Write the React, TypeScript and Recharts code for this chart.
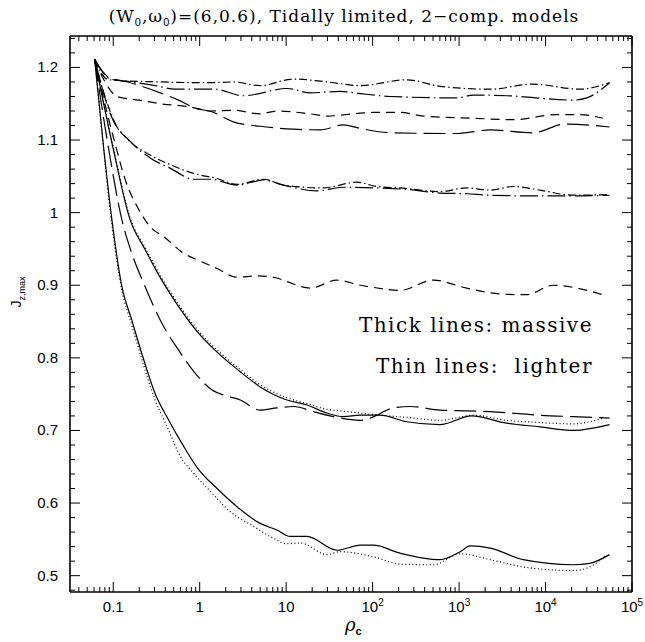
import React from 'react';
import { LineChart, Line, XAxis, YAxis } from 'recharts';

const CHART_W = 645;
const CHART_H = 642;

// ---- curves: rho_c (x) and J_z,max (y) ----
// top pair, dash-dot
const topDashDotX = [0.061, 0.088, 0.35, 1.33, 2.45, 5.0, 12.1, 30, 72, 250, 600, 2300, 7100, 25000, 55000];
const topDashDotY = [1.211, 1.183, 1.180, 1.179, 1.180, 1.175, 1.184, 1.180, 1.175, 1.183, 1.174, 1.170, 1.177, 1.170, 1.179];
const topLongDashDotX = [0.061, 0.093, 0.164, 0.305, 0.52, 1.5, 3.2, 10.3, 19, 42, 72, 160, 950, 1450, 3600, 21000, 30000, 55000];
const topLongDashDotY = [1.211, 1.184, 1.180, 1.175, 1.170, 1.170, 1.161, 1.171, 1.165, 1.167, 1.164, 1.160, 1.158, 1.162, 1.161, 1.155, 1.158, 1.179];

// second pair, dashed
const upperDashX = [0.061, 0.078, 0.111, 0.196, 0.35, 0.74, 1.33, 2.45, 5.0, 7.8, 19, 30, 72, 102, 208, 386, 1460, 4230, 13400, 25000, 46000];
const upperDashY = [1.211, 1.183, 1.160, 1.155, 1.150, 1.146, 1.140, 1.141, 1.136, 1.140, 1.136, 1.133, 1.137, 1.138, 1.138, 1.133, 1.130, 1.128, 1.135, 1.135, 1.130];
const upperLongDashX = [0.061, 0.09, 0.147, 0.35, 0.568, 0.885, 1.38, 2.45, 5.0, 12.1, 25, 46, 72, 160, 950, 2300, 7100, 17000, 55000];
const upperLongDashY = [1.211, 1.186, 1.180, 1.165, 1.155, 1.144, 1.139, 1.125, 1.119, 1.115, 1.114, 1.121, 1.116, 1.110, 1.109, 1.114, 1.110, 1.122, 1.118];

// third pair, dash-dot near 1.03
const midDashDotX = [0.061, 0.074, 0.088, 0.105, 0.15, 0.27, 0.459, 0.853, 1.59, 2.7, 5.48, 9.33, 27, 65.7, 112, 208, 600, 1224, 2300, 4230, 8600, 21000, 55000];
const midDashDotY = [1.211, 1.174, 1.146, 1.123, 1.100, 1.079, 1.066, 1.054, 1.047, 1.039, 1.046, 1.038, 1.034, 1.042, 1.036, 1.034, 1.029, 1.034, 1.031, 1.036, 1.031, 1.024, 1.025];
const midLongDashDotX = [0.061, 0.075, 0.09, 0.164, 0.27, 0.459, 0.853, 1.33, 2.7, 5.48, 9.33, 22.7, 46, 112, 248, 600, 1224, 2300, 8600, 21000, 55000];
const midLongDashDotY = [1.211, 1.170, 1.140, 1.096, 1.075, 1.061, 1.046, 1.046, 1.038, 1.045, 1.038, 1.030, 1.035, 1.034, 1.032, 1.027, 1.026, 1.024, 1.023, 1.023, 1.024];

// dashed curve ending near 0.89
const lowerDashX = [0.061, 0.08, 0.105, 0.138, 0.196, 0.27, 0.384, 0.653, 1.02, 1.59, 2.7, 4.6, 7.8, 10.2, 19, 38.6, 72, 102, 208, 505, 1224, 2970, 6030, 12200, 21000, 46000];
const lowerDashY = [1.211, 1.150, 1.095, 1.045, 1.005, 0.980, 0.967, 0.944, 0.933, 0.923, 0.911, 0.913, 0.910, 0.905, 0.896, 0.907, 0.900, 0.897, 0.893, 0.907, 0.896, 0.888, 0.887, 0.900, 0.897, 0.887];

// group near 0.72
const midLongDashX = [0.061, 0.089, 0.126, 0.164, 0.234, 0.364, 0.568, 0.885, 1.38, 2.14, 2.95, 5.0, 7.8, 12.2, 20.7, 35.3, 72, 93.6, 174, 271, 600, 2300, 8600, 21000, 55000];
const midLongDashY = [1.211, 1.086, 0.990, 0.944, 0.898, 0.848, 0.811, 0.779, 0.756, 0.747, 0.742, 0.728, 0.731, 0.733, 0.726, 0.719, 0.714, 0.717, 0.731, 0.733, 0.728, 0.726, 0.721, 0.719, 0.717];
const midSolidX = [0.061, 0.1, 0.157, 0.234, 0.364, 0.568, 0.97, 1.8, 2.8, 5.0, 10.2, 17.4, 29.6, 46, 72, 122, 248, 600, 1400, 3540, 8600, 21000, 55000];
const midSolidY = [1.211, 1.088, 0.990, 0.949, 0.907, 0.871, 0.834, 0.802, 0.783, 0.760, 0.742, 0.735, 0.724, 0.719, 0.721, 0.721, 0.712, 0.708, 0.720, 0.710, 0.705, 0.700, 0.708];
const midDottedX = [0.061, 0.1, 0.157, 0.234, 0.364, 0.568, 0.97, 1.8, 2.8, 5.0, 10.2, 17.4, 29.6, 42, 102, 248, 600, 1460, 3540, 8600, 21000, 46000];
const midDottedY = [1.211, 1.090, 0.993, 0.952, 0.910, 0.874, 0.837, 0.805, 0.786, 0.763, 0.745, 0.737, 0.729, 0.727, 0.722, 0.718, 0.714, 0.721, 0.714, 0.711, 0.709, 0.717];

// group near 0.53
const lowSolidX = [0.061, 0.078, 0.0966, 0.126, 0.164, 0.214, 0.305, 0.439, 0.653, 0.973, 1.59, 2.7, 5.0, 7.8, 11.1, 17.4, 38.6, 72, 102, 208, 600, 1030, 1340, 2300, 5530, 21000, 32500, 55000];
const lowSolidY = [1.211, 1.086, 0.990, 0.898, 0.852, 0.806, 0.751, 0.714, 0.678, 0.646, 0.620, 0.595, 0.572, 0.563, 0.554, 0.554, 0.535, 0.542, 0.542, 0.531, 0.522, 0.533, 0.541, 0.538, 0.522, 0.515, 0.517, 0.529];
const lowDottedX = [0.061, 0.078, 0.096, 0.126, 0.164, 0.214, 0.305, 0.42, 0.6, 0.853, 1.33, 2.26, 4.2, 6.55, 10.2, 14.6, 29.7, 42, 102, 208, 505, 1030, 2300, 5530, 21000, 36000, 50000];
const lowDottedY = [1.211, 1.084, 0.985, 0.893, 0.845, 0.798, 0.742, 0.705, 0.664, 0.641, 0.616, 0.588, 0.568, 0.554, 0.544, 0.545, 0.529, 0.533, 0.526, 0.516, 0.515, 0.530, 0.522, 0.512, 0.507, 0.515, 0.529];

// ---- axes ----
const xDomain = [0.031623, 100000];
const yDomain = [0.4775, 1.2433];
const xMajorTicks = [0.1, 1, 10, 100, 1000, 10000, 100000];
const xTickBase = ['0.1', '1', '10', '10', '10', '10', '10'];
const xTickExp = ['', '', '', '2', '3', '4', '5'];
const yMajorTicks = [0.5, 0.6, 0.7, 0.8, 0.9, 1.0, 1.1, 1.2];
const yTickLabels = ['0.5', '0.6', '0.7', '0.8', '0.9', '1', '1.1', '1.2'];

const xMinorTicks = [0.01, 0.1, 1, 10, 100, 1000, 10000]
  .flatMap((d) => [2, 3, 4, 5, 6, 7, 8, 9].map((m) => d * m))
  .filter((v) => v > xDomain[0] && v < xDomain[1]);
const yMinorTicks = Array.from({ length: 39 }, (_, i) => Math.round((0.48 + i * 0.02) * 100) / 100)
  .filter((v) => Math.round(v * 100) % 10 !== 0);

const xTicks = [...xMajorTicks, ...xMinorTicks].sort((a, b) => a - b);
const yTicks = [...yMajorTicks, ...yMinorTicks].sort((a, b) => a - b);

const xMajorIndex = (v: number) => xMajorTicks.findIndex((t) => Math.abs(Math.log10(t) - Math.log10(v)) < 1e-6);
const yMajorIndex = (v: number) => yMajorTicks.findIndex((t) => Math.abs(t - v) < 1e-6);

const pts = (xs: number[], ys: number[]) => xs.map((x, i) => ({ x, y: ys[i] }));

const SHORT_DASH_DOT = '8 3 1.5 3';
const LONG_DASH_DOT = '18 4 1.5 4';
const SHORT_DASH = '9 6';
const LONG_DASH = '22 7';
const DOTTED = '1 2.5';

const curves = [
  { id: 'topDashDot', data: pts(topDashDotX, topDashDotY), dash: SHORT_DASH_DOT },
  { id: 'topLongDashDot', data: pts(topLongDashDotX, topLongDashDotY), dash: LONG_DASH_DOT },
  { id: 'upperDash', data: pts(upperDashX, upperDashY), dash: SHORT_DASH },
  { id: 'upperLongDash', data: pts(upperLongDashX, upperLongDashY), dash: LONG_DASH },
  { id: 'midDashDot', data: pts(midDashDotX, midDashDotY), dash: SHORT_DASH_DOT },
  { id: 'midLongDashDot', data: pts(midLongDashDotX, midLongDashDotY), dash: LONG_DASH_DOT },
  { id: 'lowerDash', data: pts(lowerDashX, lowerDashY), dash: SHORT_DASH },
  { id: 'midLongDash', data: pts(midLongDashX, midLongDashY), dash: LONG_DASH },
  { id: 'midSolid', data: pts(midSolidX, midSolidY), dash: undefined },
  { id: 'midDotted', data: pts(midDottedX, midDottedY), dash: DOTTED },
  { id: 'lowSolid', data: pts(lowSolidX, lowSolidY), dash: undefined },
  { id: 'lowDotted', data: pts(lowDottedX, lowDottedY), dash: DOTTED },
];

const TICK_FONT = '"Liberation Sans", Arial, sans-serif';
const SERIF = '"DejaVu Serif", serif';

function BottomTick(props: any) {
  const { x, y, payload } = props;
  const i = xMajorIndex(payload.value);
  return (
    <g>
      <line x1={x} x2={x} y1={y} y2={y - (i >= 0 ? 10 : 5)} stroke="#000" strokeWidth={1} />
      {i >= 0 && (
        <text x={x} y={y + 20} textAnchor="middle" fontFamily={TICK_FONT} fontSize={15} fill="#000">
          {xTickBase[i]}
          {xTickExp[i] ? <tspan dy={-6} fontSize={10}>{xTickExp[i]}</tspan> : null}
        </text>
      )}
    </g>
  );
}

function TopTick(props: any) {
  const { x, y, payload } = props;
  const major = xMajorIndex(payload.value) >= 0;
  return <line x1={x} x2={x} y1={y} y2={y + (major ? 10 : 5)} stroke="#000" strokeWidth={1} />;
}

function LeftTick(props: any) {
  const { x, y, payload } = props;
  const i = yMajorIndex(payload.value);
  return (
    <g>
      <line x1={x} x2={x + (i >= 0 ? 10 : 5)} y1={y} y2={y} stroke="#000" strokeWidth={1} />
      {i >= 0 && (
        <text x={x - 12} y={y + 5} textAnchor="end" fontFamily={TICK_FONT} fontSize={15} fill="#000">
          {yTickLabels[i]}
        </text>
      )}
    </g>
  );
}

function RightTick(props: any) {
  const { x, y, payload } = props;
  const major = yMajorIndex(payload.value) >= 0;
  return <line x1={x} x2={x - (major ? 10 : 5)} y1={y} y2={y} stroke="#000" strokeWidth={1} />;
}

export default function App() {
  const axisLine = { stroke: '#000', strokeWidth: 1.6 };
  return (
    <div style={{ position: 'absolute', left: 0, top: 0, width: CHART_W, height: CHART_H, background: '#fff' }}>
      <LineChart width={CHART_W} height={CHART_H} margin={{ top: 0, right: 0, bottom: 0, left: 0 }}>
        <XAxis
          xAxisId="b"
          dataKey="x"
          type="number"
          scale="log"
          domain={xDomain}
          allowDataOverflow
          ticks={xTicks}
          interval={0}
          height={50}
          tickSize={0}
          tickMargin={0}
          tickLine={false}
          axisLine={axisLine}
          tick={<BottomTick />}
        />
        <XAxis
          xAxisId="t"
          orientation="top"
          dataKey="x"
          type="number"
          scale="log"
          domain={xDomain}
          allowDataOverflow
          ticks={xTicks}
          interval={0}
          height={36}
          tickSize={0}
          tickMargin={0}
          tickLine={false}
          axisLine={axisLine}
          tick={<TopTick />}
        />
        <YAxis
          yAxisId="l"
          type="number"
          domain={yDomain}
          allowDataOverflow
          ticks={yTicks}
          interval={0}
          width={70}
          tickSize={0}
          tickMargin={0}
          tickLine={false}
          axisLine={axisLine}
          tick={<LeftTick />}
        />
        <YAxis
          yAxisId="r"
          orientation="right"
          type="number"
          domain={yDomain}
          allowDataOverflow
          ticks={yTicks}
          interval={0}
          width={13}
          tickSize={0}
          tickMargin={0}
          tickLine={false}
          axisLine={axisLine}
          tick={<RightTick />}
        />
        {curves.map((c) => (
          <Line
            key={c.id}
            xAxisId="b"
            yAxisId="l"
            data={c.data}
            dataKey="y"
            type="monotone"
            stroke="#000"
            strokeWidth={1.2}
            strokeDasharray={c.dash}
            dot={false}
            activeDot={false}
            isAnimationActive={false}
          />
        ))}
      </LineChart>
      <svg width={CHART_W} height={CHART_H} style={{ position: 'absolute', left: 0, top: 0, pointerEvents: 'none' }}>
        <text x={344} y={22} textAnchor="middle" fontFamily={SERIF} fontSize={17} letterSpacing={1} fill="#000">
          (W<tspan dy={4} fontSize={11} fontFamily={TICK_FONT}>0</tspan>
          <tspan dy={-4}>,ω</tspan>
          <tspan dy={4} fontSize={11} fontFamily={TICK_FONT}>0</tspan>
          <tspan dy={-4}>)=(6,0.6), Tidally limited, 2−comp. models</tspan>
        </text>
        <text x={593} y={332} textAnchor="end" fontFamily={SERIF} fontSize={20} letterSpacing={1.5} fill="#000" style={{ whiteSpace: 'pre' }}>
          Thick lines: massive
        </text>
        <text x={593} y={373} textAnchor="end" fontFamily={SERIF} fontSize={20} letterSpacing={1.5} fill="#000" style={{ whiteSpace: 'pre' }}>
          {'Thin lines:  lighter'}
        </text>
        <text x={345} y={631} fontFamily={SERIF} fontStyle="italic" fontSize={18} fill="#000">
          ρ<tspan dy={4} fontSize={11} fontStyle="normal" fontWeight="bold" fontFamily={TICK_FONT}>c</tspan>
        </text>
        <text transform="translate(21,292) rotate(-90)" textAnchor="middle" fontFamily={TICK_FONT} fontSize={14} fill="#000">
          J<tspan dy={4} fontSize={9}>z,max</tspan>
        </text>
      </svg>
    </div>
  );
}
